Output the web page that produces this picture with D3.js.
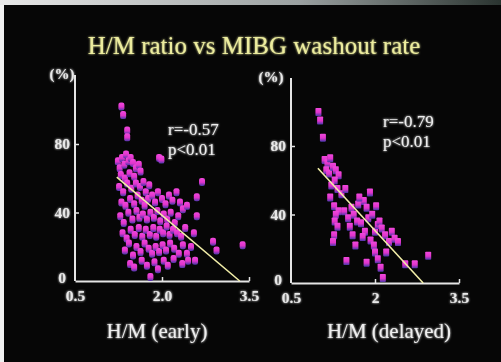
<!DOCTYPE html>
<html><head><meta charset="utf-8">
<script src="https://cdn.jsdelivr.net/npm/d3@7"></script>
<style>body{margin:0;background:#000}svg{display:block}</style>
</head><body>
<svg id="c" width="501" height="362"></svg>
<script>
const title = "H/M ratio vs MIBG washout rate";
const xTicks = [0.5, 2.0, 3.5];
const yTicks = [0, 40, 80];
const earlyTickLabels = ["0.5", "2.0", "3.5"];
const delayedTickLabels = ["0.5", "2", "3.5"];
const earlyStats = ["r=-0.57", "p<0.01"];
const delayedStats = ["r=-0.79", "p<0.01"];

const earlyHM = [1.30,1.33,1.40,1.40,1.24,1.27,1.31,1.35,1.38,1.42,1.46,1.50,1.55,1.29,1.36,1.44,1.52,1.60,1.63,1.95,1.99,
1.26,1.33,1.40,1.47,1.55,1.62,1.68,1.72,1.78,1.30,1.37,1.45,1.52,1.58,1.65,1.70,1.76,1.83,1.88,1.93,2.00,2.06,2.12,2.18,2.25,2.31,
1.28,1.34,1.42,1.49,1.56,1.61,1.67,1.74,1.80,1.86,1.92,1.97,2.03,2.09,2.15,2.22,2.28,2.36,2.43,2.60,2.69,
1.32,1.39,1.46,1.53,1.60,1.66,1.72,1.79,1.85,1.90,1.96,2.02,2.08,2.13,2.19,2.26,2.33,2.40,2.60,2.55,
1.36,1.43,1.50,1.56,1.63,1.70,1.77,1.83,1.89,1.95,2.01,2.07,2.14,2.21,2.29,2.36,2.43,2.50,2.57,2.88,2.94,3.39,
1.45,1.52,1.65,1.74,1.80,1.87,1.93,2.03,2.10,2.20,2.35,2.45];
const earlyWR = [102,97,88,84,70,66,72,68,74,70,72,69,66,62,60,63,61,68,64,72,71,
55,52,57,54,57,55,58,52,56,46,44,48,45,50,47,44,48,50,46,52,48,45,50,47,52,46,
38,34,40,36,41,37,39,36,40,37,41,35,39,36,40,34,38,42,44,49,58,
28,25,30,27,31,26,30,27,31,26,30,28,32,27,30,28,26,31,38,28,
18,22,15,20,17,22,19,16,20,17,21,18,22,19,16,21,16,20,12,23,18,21,
10,8,12,9,2.5,11,7,12,9,13,10,12];

const delayedHM = [0.99,1.02,1.07,1.10,1.15,1.20,1.13,1.18,1.25,1.30,1.35,1.28,1.22,1.33,1.20,1.40,1.47,1.27,1.35,1.30,1.28,1.33,1.27,1.25,1.49,
1.45,1.52,1.58,1.62,1.55,1.68,1.60,1.75,1.70,1.80,1.85,1.91,1.88,1.95,1.82,1.78,1.92,1.98,2.00,2.05,2.08,2.12,2.00,2.05,1.85,2.10,2.14,
2.18,2.25,2.30,2.35,2.41,2.20,2.54,2.71,2.95,1.65,1.72,2.02];
const delayedWR = [100,95,85,72,70,73,66,64,68,66,63,60,57,55,50,52,55,45,42,40,36,33,28,24,13,
42,38,44,40,33,36,28,35,46,48,44,53,38,40,30,27,25,22,30,34,36,32,18,14,12,9,3,
28,24,30,26,24,18,11,11,16,22,50,45];

// regression line endpoints
const earlyFit = {x: [1.22, 3.34], y: [60.7, 0]};
const delayedFit = {x: [0.98, 2.86], y: [67, 0]};

const svg = d3.select("#c");
const defs = svg.append("defs");
const tg = defs.append("linearGradient").attr("id","topband").attr("x1",0).attr("x2",1).attr("y1",0).attr("y2",0);
tg.append("stop").attr("offset",0).attr("stop-color","#e8e8e8");
tg.append("stop").attr("offset",0.6).attr("stop-color","#9aa0a0");
tg.append("stop").attr("offset",1).attr("stop-color","#2a3430");
const mg = defs.append("linearGradient").attr("id","mk").attr("x1",0).attr("x2",0).attr("y1",0).attr("y2",1);
mg.append("stop").attr("offset",0).attr("stop-color","#f048dc");
mg.append("stop").attr("offset",0.55).attr("stop-color","#e034cc");
mg.append("stop").attr("offset",1).attr("stop-color","#4836a8");
const glow = defs.append("filter").attr("id","glow").attr("x","-30%").attr("y","-30%").attr("width","160%").attr("height","160%");
glow.append("feGaussianBlur").attr("stdDeviation",0.7);
const tglow = defs.append("filter").attr("id","tglow").attr("x","-10%").attr("y","-30%").attr("width","120%").attr("height","160%");
tglow.append("feGaussianBlur").attr("in","SourceGraphic").attr("stdDeviation",1.1).attr("result","b");
const mrg = tglow.append("feMerge");
mrg.append("feMergeNode").attr("in","b");
mrg.append("feMergeNode").attr("in","SourceGraphic");

svg.append("rect").attr("width",501).attr("height",362).attr("fill","#f0f0f0");
svg.append("rect").attr("x",0).attr("y",0).attr("width",501).attr("height",5).attr("fill","url(#topband)");
svg.append("rect").attr("x",4).attr("y",5).attr("width",497).attr("height",357).attr("fill","#060606");

svg.append("text").attr("x",254).attr("y",54).attr("text-anchor","middle").attr("filter","url(#tglow)")
  .attr("font-family","Liberation Serif").attr("font-size",25).attr("fill","#ecec9e").text(title);

function panel(cfg){
  const x = d3.scaleLinear().domain([0.5,3.5]).range(cfg.xr);
  const y = d3.scaleLinear().domain([0,80]).range(cfg.yr);
  const g = svg.append("g");
  const ax = g.append("g").attr("transform",`translate(0,${cfg.yr[0]})`)
    .call(d3.axisBottom(x).tickValues(xTicks).tickFormat((d,i)=>cfg.xLabels[i]).tickSize(-4).tickSizeOuter(0).tickPadding(9));
  const ay = g.append("g").attr("transform",`translate(${cfg.xr[0]},0)`)
    .call(d3.axisLeft(y).tickValues(yTicks).tickSize(-4).tickSizeOuter(0).tickPadding(5));
  ay.select(".domain").attr("d",`M0,${cfg.yr[0]}V${cfg.yTop}`);
  [ax,ay].forEach(a=>{
    a.select(".domain").attr("stroke","#e4e4e4").attr("stroke-width",2);
    a.selectAll(".tick line").attr("stroke","#e4e4e4").attr("stroke-width",1.5);
    a.selectAll("text").attr("font-family","Liberation Serif").attr("font-size",15.5).attr("fill","#e8e8e8")
      .attr("font-weight","bold").attr("filter","url(#tglow)");
  });
  ay.selectAll(".tick").filter(d=>d===0).select("text").attr("x",-9).attr("dy","0.1em");
  ay.selectAll(".tick").filter(d=>d===0).select("line").remove();
  ax.selectAll(".tick").filter(d=>d===0.5).select("line").remove();
  g.append("text").attr("x",cfg.pctX).attr("y",cfg.yTop+4).attr("font-family","Liberation Serif").attr("filter","url(#tglow)")
    .attr("font-size",15).attr("font-weight","bold").attr("fill","#e8e8e8").attr("text-anchor","middle").text("(%)");
  // points
  const pts = cfg.hm.map((v,i)=>[v,cfg.wr[i]]);
  g.append("g").selectAll("rect").data(pts).join("rect")
    .attr("x",d=>x(d[0])-3).attr("y",d=>y(d[1])-3.8).attr("width",6).attr("height",8).attr("rx",cfg.rx)
    .attr("fill","url(#mk)").attr("filter","url(#glow)");
  // fit line
  g.append("line").attr("x1",x(cfg.fit.x[0])).attr("y1",y(cfg.fit.y[0])).attr("x2",x(cfg.fit.x[1])).attr("y2",y(cfg.fit.y[1]))
    .attr("stroke","#f2eea8").attr("stroke-width",1.6);
  cfg.stats.forEach((s,i)=>{
    g.append("text").attr("x",cfg.statX).attr("y",cfg.statY+i*20).attr("font-family","Liberation Serif").attr("filter","url(#tglow)")
      .attr("font-size",17).attr("fill","#eeeeee").text(s);
  });
  g.append("text").attr("x",cfg.titleX).attr("y",338).attr("text-anchor","middle").attr("font-family","Liberation Serif")
    .attr("filter","url(#tglow)").attr("font-size",21).attr("fill","#eeeeee").text(cfg.title);
}

panel({xr:[75,249], yr:[281,144], yTop:75, pctX:62, hm:earlyHM, wr:earlyWR, fit:earlyFit, rx:2.2,
  xLabels:earlyTickLabels, stats:earlyStats, statX:168, statY:135, titleX:157, title:"H/M (early)"});
panel({xr:[291,459], yr:[283,146], yTop:78, pctX:271, hm:delayedHM, wr:delayedWR, fit:delayedFit, rx:0.8,
  xLabels:delayedTickLabels, stats:delayedStats, statX:383, statY:127, titleX:389, title:"H/M (delayed)"});
</script>
</body></html>
